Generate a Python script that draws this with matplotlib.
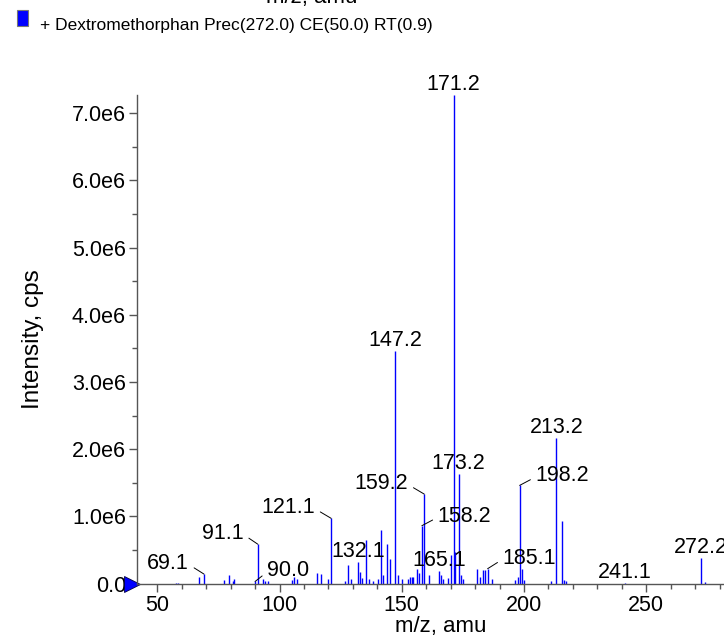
import matplotlib
matplotlib.use("Agg")
import matplotlib.pyplot as plt
from matplotlib.ticker import MultipleLocator, FuncFormatter

# MS/MS spectrum, intensities in 1e6 cps
mz = [57.7, 58.5, 67.0, 69.1, 77.2, 79.2, 80.9, 81.4, 90.0, 91.1, 93.3, 94.2,
      95.2, 105.2, 106.0, 107.3, 115.5, 117.1, 119.8, 121.1, 126.8, 128.2,
      129.3, 132.1, 133.0, 133.6, 135.3, 136.6, 138.4, 140.4, 141.4, 142.2,
      143.9, 145.2, 147.2, 148.6, 150.0, 152.7, 153.4, 154.0, 154.5, 156.2,
      157.0, 158.2, 159.2, 161.2, 165.1, 166.2, 167.0, 169.1, 170.2, 171.2,
      171.8, 173.2, 174.1, 174.9, 180.9, 182.0, 183.1, 184.0, 185.1, 187.0,
      196.3, 197.4, 198.2, 199.0, 200.0, 210.9, 213.2, 215.4, 216.2, 217.0,
      241.1, 272.2, 273.9]
intensity = [0.01, 0.01, 0.10, 0.14, 0.05, 0.12, 0.04, 0.07, 0.03, 0.585, 0.07, 0.03,
             0.04, 0.05, 0.09, 0.07, 0.15, 0.14, 0.06, 0.97, 0.04, 0.27,
             0.06, 0.32, 0.17, 0.08, 0.65, 0.07, 0.03, 0.06, 0.79, 0.12,
             0.59, 0.37, 3.46, 0.12, 0.06, 0.07, 0.10, 0.10, 0.10, 0.22,
             0.15, 0.86, 1.33, 0.12, 0.18, 0.13, 0.07, 0.08, 0.42, 7.27,
             0.47, 1.63, 0.12, 0.06, 0.22, 0.10, 0.20, 0.20, 0.22, 0.07,
             0.05, 0.10, 1.46, 0.22, 0.05, 0.03, 2.16, 0.93, 0.05, 0.03,
             0.01, 0.38, 0.02]

label_mz = [69.1, 90.0, 91.1, 121.1, 132.1, 147.2, 158.2, 159.2, 165.1,
            171.2, 173.2, 185.1, 198.2, 213.2, 241.1, 272.2]

legend_text = "+ Dextromethorphan Prec(272.0) CE(50.0) RT(0.9)"

# label placement (pixel offsets from peak top, alignment)
label_layout = {
    69.1: (-15, 5, "right"), 90.0: (12, 5, "left"), 91.1: (-14, 5, "right"),
    121.1: (-16, 5, "right"), 158.2: (16, 4, "left"), 159.2: (-16, 5, "right"),
    185.1: (15, 5, "left"), 198.2: (16, 4, "left"),
}

plt.rcParams["font.family"] = ["Liberation Sans", "DejaVu Sans"]
fs = 15.5
grey = "#555555"

fig = plt.figure(figsize=(7.24, 6.42), dpi=100)
xmin, xmax = 41.7, 290.0
ymax = 7.27e6
px_per_mz = 2.445
ax = fig.add_axes([137 / 724, (642 - 583.5) / 642,
                   (xmax - xmin) * px_per_mz / 724, 488.5 / 642])

ys = [v * 1e6 for v in intensity]
ax.vlines(mz, 0, ys, color="#0000ff", lw=1.0)

for lm in label_mz:
    h = ys[mz.index(lm)]
    txt = f"{lm:.1f}"
    if lm in label_layout:
        dx, dy, ha = label_layout[lm]
        ax.annotate(txt, xy=(lm, h), xytext=(dx, dy), textcoords="offset pixels",
                    ha=ha, va="baseline", fontsize=fs, annotation_clip=False,
                    arrowprops=dict(arrowstyle="-", color="black", lw=0.7,
                                    relpos=(0 if ha == "left" else 1, 0.45),
                                    shrinkA=2, shrinkB=0))
    else:
        ax.annotate(txt, xy=(lm, h), xytext=(0, 5), textcoords="offset pixels",
                    ha="center", va="baseline", fontsize=fs, annotation_clip=False)

ax.set_xlim(xmin, xmax)
ax.set_ylim(0, ymax)
for s in ["top", "right"]:
    ax.spines[s].set_visible(False)
for s in ["left", "bottom"]:
    ax.spines[s].set_color(grey)
    ax.spines[s].set_linewidth(1.0)

ax.xaxis.set_major_locator(MultipleLocator(50))
ax.xaxis.set_minor_locator(MultipleLocator(10))
ax.yaxis.set_major_locator(MultipleLocator(1e6))
ax.yaxis.set_minor_locator(MultipleLocator(0.5e6))
ax.yaxis.set_major_formatter(FuncFormatter(
    lambda v, p: "0.0" if v == 0 else f"{v / 1e6:.1f}e6"))
ax.tick_params(which="major", length=6, width=1.0, color=grey,
               labelsize=fs, pad=2)
ax.tick_params(which="minor", length=3.5, width=1.0, color=grey)

ax.set_xlabel("m/z, amu", fontsize=16, labelpad=0)
ax.set_ylabel("Intensity, cps", fontsize=17.5, labelpad=20)

# precursor marker on the y axis
ax.plot([-0.008], [0], marker=">", ms=12, color="#0000ff", mec="#000044",
        mew=0.6, transform=ax.get_yaxis_transform(), clip_on=False)

# legend box and title
fig.patches.append(plt.Rectangle((17 / 724, 1 - 26 / 642), 11 / 724, 16.5 / 642,
                                 transform=fig.transFigure, facecolor="#0000ff",
                                 edgecolor="#777777", lw=0.8))
fig.text(40 / 724, 1 - 30 / 642, legend_text, fontsize=12.5, va="baseline")
# axis title of the panel above, cut at the top edge
fig.text(312 / 724, 1 - 3 / 642, "m/z, amu", fontsize=16, ha="center",
         va="baseline")

fig.savefig("out.png", dpi=100)
